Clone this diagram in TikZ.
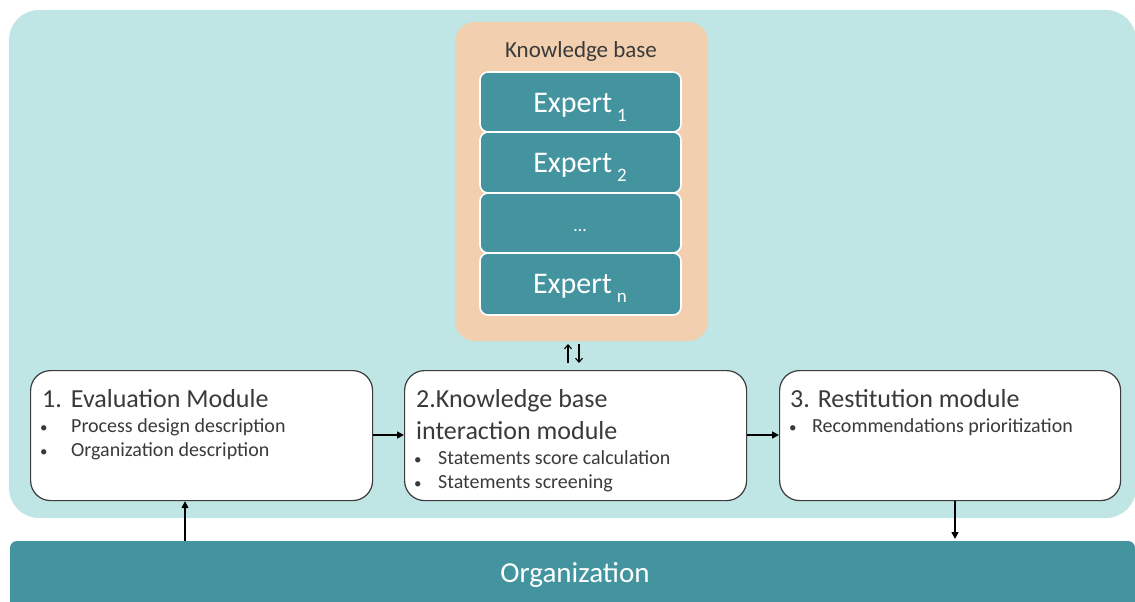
\documentclass[tikz,border=0pt]{standalone}
\usepackage{fontspec}
\setmainfont{Carlito}
\usetikzlibrary{arrows.meta}
\definecolor{bglight}{HTML}{BFE6E4}
\definecolor{peach}{HTML}{F2CFAE}
\definecolor{tealdark}{HTML}{4494A0}
\definecolor{txtgray}{HTML}{3A3A3A}
\definecolor{edgegray}{HTML}{3C3C3C}
\tikzset{
  expertbox/.style={draw=white, line width=1.6pt, fill=tealdark, rounded corners=8pt},
  modbox/.style={draw=edgegray, line width=1.2pt, fill=white, rounded corners=20pt},
  titletxt/.style={anchor=base west, inner sep=0pt, text=txtgray, font=\fontsize{26}{30}\selectfont},
  itemtxt/.style={anchor=base west, inner sep=0pt, text=txtgray, font=\fontsize{20}{24}\selectfont},
  bul/.style={anchor=base west, inner sep=0pt, text=txtgray, font=\fontsize{15}{18}\selectfont},
  experttxt/.style={text=white, font=\fontsize{30}{34}\selectfont, inner sep=0pt},
  flow/.style={-{Triangle[length=7pt,width=7pt]}, line width=1.6pt, black},
  thinflow/.style={-{Straight Barb[length=4pt,width=7pt]}, line width=1.1pt, black},
}
\newcommand{\expsub}[1]{\,\raisebox{-0.3em}{\fontsize{19}{22}\selectfont #1}}
\begin{document}
\begin{tikzpicture}[x=1pt,y=-1pt]
\useasboundingbox (0,0) rectangle (1135,602);
% background panel
\fill[bglight, rounded corners=30pt] (9,10) rectangle (1136,518);
% organization bar
\fill[tealdark, rounded corners=7pt] (10,541) rectangle (1135,640);
\node[text=white, font=\fontsize{29}{33}\selectfont, inner sep=0pt] (orgtxt) at (575,575) {Organization};
\coordinate (orgtopL) at (185,541);
\coordinate (orgtopR) at (955,539);
% knowledge base
\fill[peach, rounded corners=20pt] (455,22) rectangle (708,341);
\coordinate (kbbottom) at (581,341);
\node[text=txtgray, font=\fontsize{23}{26}\selectfont, inner sep=0pt] (kbt) at (581,51) {Knowledge base};
\draw[expertbox] (480,72) rectangle (681,132);
\draw[expertbox] (480,132) rectangle (681,193);
\draw[expertbox] (480,193) rectangle (681,253);
\draw[expertbox] (480,253) rectangle (681,315);
\node[experttxt] (e1) at (580,107) {Expert\expsub{1}};
\node[experttxt] (e2) at (580,167) {Expert\expsub{2}};
\node[text=white, font=\fontsize{18}{20}\selectfont, inner sep=0pt] (e3) at (580,231) {\ldots};
\node[experttxt] (en) at (580,288) {Expert\expsub{n}};
% modules
\node[modbox, minimum width=342pt, minimum height=130pt, anchor=north west] (m1) at (30,370) {};
\node[modbox, minimum width=342pt, minimum height=130pt, anchor=north west] (m2) at (404,370) {};
\node[modbox, minimum width=341pt, minimum height=130pt, anchor=north west] (m3) at (779,370) {};
% module 1 text
\node[titletxt] (m1t) at (42,407) {1.\hspace{9pt}Evaluation Module};
\node[bul] (m1b1) at (40,432) {\textbullet};
\node[itemtxt] (m1i1) at (71,432) {Process design description};
\node[bul] (m1b2) at (40,456) {\textbullet};
\node[itemtxt] (m1i2) at (71,456) {Organization description};
% module 2 text
\node[titletxt] (m2t1) at (416,407) {2.Knowledge base};
\node[titletxt] (m2t2) at (416,439) {interaction module};
\node[bul] (m2b1) at (414,464) {\textbullet};
\node[itemtxt] (m2i1) at (438,464) {Statements score calculation};
\node[bul] (m2b2) at (414,488) {\textbullet};
\node[itemtxt] (m2i2) at (438,488) {Statements screening};
% module 3 text
\node[titletxt] (m3t) at (790,407) {3. Restitution module};
\node[bul] (m3b1) at (789,432) {\textbullet};
\node[itemtxt] (m3i1) at (812,432) {Recommendations prioritization};
% connectors
\draw[flow] (m1.east |- 0,435) -- (m2.west |- 0,435);
\draw[flow] (m2.east |- 0,435) -- (m3.west |- 0,435);
\draw[flow] (orgtopL) -- (orgtopL |- m1.south);
\draw[flow] (m3.south -| orgtopR) -- (orgtopR);
\draw[thinflow] ([xshift=-13pt,yshift=-22pt]kbbottom) -- ([xshift=-13pt,yshift=-3pt]kbbottom);
\draw[thinflow] ([xshift=-2pt,yshift=-3pt]kbbottom) -- ([xshift=-2pt,yshift=-22pt]kbbottom);
\end{tikzpicture}
\end{document}
